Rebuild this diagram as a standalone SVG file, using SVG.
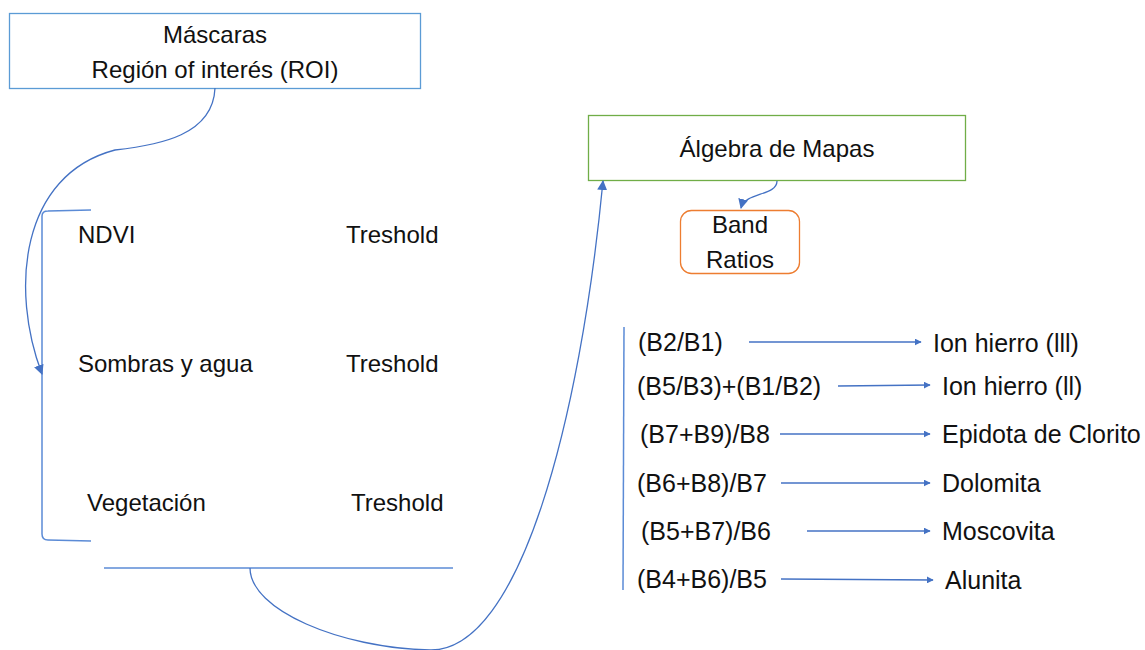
<svg xmlns="http://www.w3.org/2000/svg" width="1145" height="650" viewBox="0 0 1145 650">
  <style>
    text { font-family: "Liberation Sans", Arial, sans-serif; font-size: 24px; fill: #111; }
    .mid { text-anchor: middle; }
    .big { font-size: 25px; }
    .wire { fill: none; stroke: #4472C4; stroke-width: 1.3; }
    .rule { fill: none; stroke: #5B8BD6; stroke-width: 1.5; }
  </style>
  <defs>
    <marker id="arrow" viewBox="0 0 10 10" refX="9" refY="5" markerWidth="7" markerHeight="7" markerUnits="userSpaceOnUse" orient="auto">
      <path d="M0,0 L10,5 L0,10 z" fill="#4472C4"/>
    </marker>
    <marker id="arrowL" viewBox="0 0 10 10" refX="9" refY="5" markerWidth="10" markerHeight="10" markerUnits="userSpaceOnUse" orient="auto">
      <path d="M0,0 L10,5 L0,10 z" fill="#4472C4"/>
    </marker>
  </defs>

  <rect width="1145" height="650" fill="#ffffff"/>

  <!-- Mask / ROI box -->
  <g id="mascaras">
    <rect x="9.5" y="13.5" width="411" height="75" fill="#fff" stroke="#5B9BD5" stroke-width="1.3"/>
    <text class="mid" x="215" y="43">Máscaras</text>
    <text class="mid" x="215" y="78">Región of interés (ROI)</text>
  </g>

  <!-- Mask list bracket -->
  <g id="mask-list">
    <path class="rule" d="M91,210 L48,211 Q42,211 42,216 L42,534 Q42,540 48,540 L91,541"/>
    <text x="78" y="243">NDVI</text>
    <text x="346" y="243">Treshold</text>
    <text x="78" y="372">Sombras y agua</text>
    <text x="346" y="372">Treshold</text>
    <text x="87" y="511">Vegetación</text>
    <text x="351" y="511">Treshold</text>
    <line class="rule" x1="104" y1="568" x2="453" y2="568"/>
  </g>

  <!-- Map algebra box -->
  <g id="algebra">
    <rect x="588.5" y="115.5" width="377" height="65" fill="#fff" stroke="#70AD47" stroke-width="1.3"/>
    <text class="mid" x="777" y="157">Álgebra de Mapas</text>
  </g>

  <!-- Band ratios box -->
  <g id="band-ratios">
    <rect x="680.5" y="210.5" width="119" height="63" rx="11" fill="#fff" stroke="#ED7D31" stroke-width="1.3"/>
    <text class="mid" x="740" y="233">Band</text>
    <text class="mid" x="740" y="268">Ratios</text>
  </g>

  <!-- Ratio list -->
  <g id="ratio-list">
    <line class="rule" x1="624" y1="327" x2="623" y2="590" stroke-width="1.3"/>
    <text class="big" x="638" y="351">(B2/B1)</text>
    <text class="big" x="933" y="352">Ion hierro (lll)</text>
    <text class="big" x="637" y="395">(B5/B3)+(B1/B2)</text>
    <text class="big" x="942" y="395">Ion hierro (ll)</text>
    <text class="big" x="640" y="443">(B7+B9)/B8</text>
    <text class="big" x="942" y="443">Epidota de Clorito</text>
    <text class="big" x="637" y="492">(B6+B8)/B7</text>
    <text class="big" x="942" y="492">Dolomita</text>
    <text class="big" x="641" y="540">(B5+B7)/B6</text>
    <text class="big" x="942" y="540">Moscovita</text>
    <text class="big" x="637" y="588">(B4+B6)/B5</text>
    <text class="big" x="945" y="589">Alunita</text>
  </g>

  <!-- Connectors -->
  <g id="connectors">
    <path class="wire" d="M215,88 C213,135 160,145 115,150 C20,175 10,290 42,374" marker-end="url(#arrowL)"/>
    <path class="wire" d="M250,568 C250,610 340,648 430,650 C520,652 580,420 603,181" marker-end="url(#arrowL)"/>
    <path class="wire" d="M777,181 C777,196 745,192 741,208" marker-end="url(#arrowL)"/>
    <line class="wire" x1="749" y1="342" x2="921" y2="342" marker-end="url(#arrow)"/>
    <line class="wire" x1="838" y1="386" x2="930" y2="385" marker-end="url(#arrow)"/>
    <line class="wire" x1="780" y1="434" x2="930" y2="434" marker-end="url(#arrow)"/>
    <line class="wire" x1="781" y1="483" x2="930" y2="483" marker-end="url(#arrow)"/>
    <line class="wire" x1="807" y1="531" x2="930" y2="531" marker-end="url(#arrow)"/>
    <line class="wire" x1="781" y1="579" x2="933" y2="580" marker-end="url(#arrow)"/>
  </g>
</svg>
